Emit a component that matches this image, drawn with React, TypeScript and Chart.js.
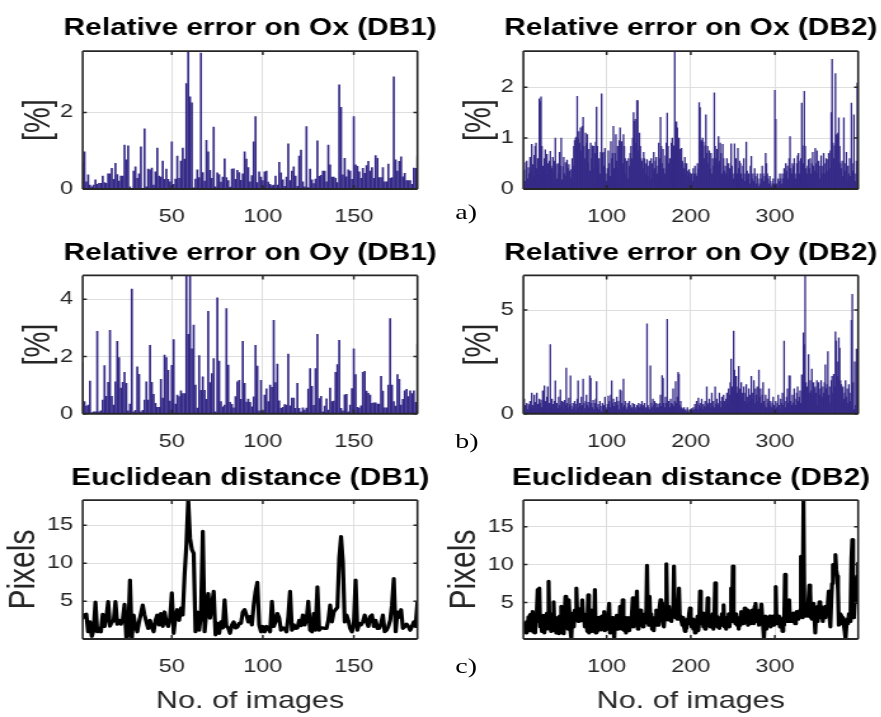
import React, { useEffect, useRef } from "react";
import { Chart, registerables } from "chart.js";

Chart.register(...registerables);

// ---------------- data ----------------
const oxDB1: number[] = [
  0.7, 0.97, 0.19, 0.37, 0.1, 0.06, 0.1, 0.24, 0.12, 0.15,
  0.15, 0.34, 0.17, 0.15, 0.4, 0.4, 0.54, 0.25, 0.67, 0.38,
  0.21, 0.34, 0.34, 1.15, 0.76, 1.13, 0.06, 0.02, 0.47, 0.58,
  0.28, 0.4, 1.1, 0.02, 1.57, 0.06, 0.52, 0.5, 0.55, 0.1,
  0.45, 1.07, 0.34, 0.31, 0.73, 0.25, 0.52, 0.25, 0.19, 1.23,
  0.12, 0.26, 0.86, 0.28, 0.73, 1.07, 0.78, 2.75, 3.6, 2.41,
  2.25, 0.03, 0.26, 0.5, 0.3, 3.55, 0.43, 0.21, 1.27, 0.97,
  0.49, 0.28, 1.62, 0.06, 0.42, 0.38, 0.18, 0.31, 0.79, 0.3,
  0.22, 0.05, 0.52, 0.53, 0.25, 0.49, 0.43, 0.23, 0.4, 0.97,
  0.78, 0.56, 0.19, 0.35, 1.23, 1.89, 0.17, 0.45, 0.31, 0.22,
  0.45, 0.47, 0.18, 0.12, 0.09, 0.1, 0.34, 0.1, 0.7, 0.42,
  0.24, 0.07, 0.31, 1.18, 0.22, 0.47, 0.58, 0.34, 0.07, 0.86,
  1.02, 0.19, 0.06, 1.63, 0.04, 0.52, 0.24, 0.14, 0.26, 1.26,
  0.33, 0.36, 0.47, 0.47, 0.19, 1.15, 0.63, 0.31, 0.31, 0.28,
  0.17, 2.72, 2.13, 0.37, 0.8, 0.32, 0.5, 0.47, 0.25, 1.89,
  0.63, 0.59, 0.45, 0.28, 0.54, 0.41, 0.61, 0.72, 0.47, 0.56,
  0.28, 0.87, 0.8, 0.3, 0.3, 0.56, 0.19, 0.19, 0.65, 0.28,
  0.3, 2.93, 0.76, 0.47, 0.72, 0.84, 0.32, 0.41, 0.22, 0.22,
  0.22, 0.12, 0.55, 0.54, 0.84,
];

const oyDB1: number[] = [
  1.79, 0.42, 0.27, 0.3, 1.14, 0.03, 0.07, 0.07, 2.88, 0.07,
  0.1, 0.48, 1.68, 0.61, 1.1, 2.91, 0.61, 0.3, 1.11, 2.53,
  1.96, 0.9, 1.1, 1.45, 1.06, 0.1, 0.34, 4.35, 0.07, 0.12,
  1.64, 1.38, 0.07, 0.12, 0.48, 1.11, 0.48, 2.39, 1.1, 0.68,
  0.36, 0.22, 0.22, 1.2, 0.55, 2.05, 1.96, 1.52, 0.44, 1.69,
  2.59, 0.34, 0.65, 0.6, 0.8, 0.7, 0.7, 4.8, 2.77, 4.8,
  2.27, 3.1, 1.0, 0.2, 2.03, 0.82, 1.29, 0.82, 0.5, 3.58,
  1.09, 1.4, 1.93, 0.07, 4.05, 1.84, 0.42, 0.24, 0.3, 3.67,
  1.7, 0.4, 0.33, 0.21, 0.6, 1.11, 1.17, 0.5, 2.53, 1.06,
  0.41, 0.51, 0.4, 0.24, 0.59, 2.39, 1.66, 0.1, 1.17, 0.07,
  0.65, 0.87, 0.42, 1.0, 0.92, 3.26, 1.09, 1.73, 0.45, 0.19,
  0.22, 0.32, 0.3, 2.08, 0.28, 0.55, 0.55, 0.19, 1.06, 0.19,
  0.07, 0.21, 0.13, 0.2, 0.86, 1.58, 0.96, 0.29, 1.58, 2.77,
  0.53, 0.61, 0.07, 0.27, 0.52, 0.13, 0.9, 0.42, 0.44, 1.45,
  1.72, 2.56, 0.19, 0.1, 0.66, 0.68, 0.07, 0.3, 0.88, 2.27,
  1.37, 0.22, 0.2, 0.28, 1.45, 1.48, 0.79, 0.71, 0.65, 0.36,
  0.38, 0.38, 0.34, 0.34, 1.31, 0.79, 0.21, 0.21, 1.0, 3.32,
  1.0, 0.42, 0.27, 1.37, 1.2, 0.3, 0.5, 0.8, 0.85, 0.6,
  0.8, 0.7, 0.8, 0.4, 2.42,
];

const euDB1: number[] = [
  2.8, 3.2, 3.3, 1.0, 2.3, 0.4, 1.2, 4.9, 1.0, 1.45,
  1.0, 3.3, 1.7, 2.85, 4.95, 1.75, 2.3, 2.4, 4.95, 2.0,
  2.5, 2.0, 2.6, 4.6, 0.1, 0.6, 7.8, 0.1, 3.2, 1.7,
  1.0, 2.3, 3.4, 4.5, 3.2, 2.3, 1.45, 2.5, 1.6, 1.0,
  2.5, 3.2, 1.9, 3.4, 1.7, 3.6, 2.2, 1.7, 2.8, 6.1,
  0.8, 3.0, 3.9, 2.5, 4.1, 3.2, 8.5, 12.4, 18.3, 13.3,
  11.8, 11.3, 1.0, 3.6, 1.2, 3.2, 14.2, 1.0, 3.6, 6.0,
  2.8, 4.5, 6.3, 0.6, 2.1, 0.8, 2.3, 1.5, 5.2, 1.7,
  1.5, 0.8, 1.9, 2.3, 1.5, 1.6, 2.1, 2.1, 3.6, 3.9,
  3.2, 2.3, 3.0, 1.9, 4.5, 6.3, 7.5, 1.9, 1.0, 1.7,
  1.0, 1.7, 1.45, 1.0, 5.0, 1.7, 2.3, 3.4, 2.8, 1.2,
  1.5, 1.45, 1.0, 3.0, 6.3, 1.2, 1.9, 1.45, 1.5, 2.5,
  1.8, 3.2, 1.9, 2.5, 5.0, 1.2, 1.0, 3.4, 1.2, 6.9,
  1.2, 1.5, 1.5, 1.45, 1.45, 2.5, 4.5, 2.3, 3.6, 3.9,
  4.2, 10.7, 13.5, 10.2, 2.3, 3.2, 2.5, 1.45, 1.0, 1.9,
  7.8, 1.2, 2.1, 1.9, 2.3, 3.2, 2.3, 1.7, 3.0, 3.2,
  1.7, 2.5, 1.45, 1.45, 2.1, 3.2, 1.0, 1.2, 1.7, 2.5,
  4.5, 8.0, 1.0, 3.6, 2.9, 3.9, 1.45, 1.7, 2.0, 1.7,
  1.2, 1.7, 2.3, 1.7, 4.9,
];

const oxDB2: number[] = [
  0.18, 0.37, 0.15, 0.52, 0.55, 0.2, 0.42, 0.3, 0.62, 0.35, 0.88, 0.48, 0.25, 0.66, 0.84, 0.9, 0.4, 0.6, 0.28, 1.77,
  1.72, 1.81, 0.84, 0.45, 0.37, 0.6, 0.77, 0.3, 0.68, 0.5, 0.28, 0.55, 0.74, 0.45, 0.4, 0.62, 0.3, 0.55, 1.0, 0.48,
  0.2, 0.5, 0.3, 0.72, 0.45, 1.0, 0.18, 0.44, 0.62, 0.3, 0.52, 0.25, 0.57, 0.4, 0.48, 0.35, 0.22, 0.38, 0.6, 0.45,
  0.84, 0.95, 1.0, 1.02, 1.82, 0.98, 1.13, 0.9, 1.2, 0.75, 1.23, 1.41, 0.84, 0.6, 1.1, 0.9, 1.07, 0.5, 0.78, 0.35,
  0.9, 0.6, 0.85, 0.4, 0.84, 0.7, 0.92, 1.61, 0.84, 0.5, 0.6, 0.3, 0.72, 1.87, 0.7, 0.72, 0.45, 0.8, 0.3, 0.15,
  0.4, 0.75, 0.5, 0.25, 0.93, 0.6, 0.7, 1.23, 0.4, 0.7, 1.07, 0.55, 0.84, 0.4, 0.95, 1.2, 0.9, 0.93, 0.5, 1.07,
  0.84, 0.6, 0.3, 0.55, 0.2, 0.6, 0.45, 0.7, 0.84, 0.6, 1.0, 1.5, 1.33, 1.37, 0.9, 1.74, 1.74, 0.75, 1.1, 0.84,
  0.6, 0.55, 0.4, 0.72, 0.6, 0.3, 0.5, 0.58, 0.25, 0.45, 0.55, 0.2, 0.6, 0.5, 0.35, 0.72, 0.4, 0.55, 0.62, 0.3,
  0.45, 0.9, 0.6, 1.41, 0.84, 0.5, 0.78, 0.4, 0.3, 0.65, 0.9, 1.49, 0.84, 0.5, 0.6, 0.3, 0.9, 1.0, 0.6, 0.85,
  2.71, 0.84, 1.32, 1.2, 0.95, 1.0, 0.78, 0.6, 0.8, 0.55, 0.5, 0.4, 0.62, 0.3, 0.5, 0.35, 0.25, 0.38, 0.32, 0.2,
  0.3, 0.15, 0.4, 0.3, 0.45, 0.3, 0.25, 0.5, 0.4, 1.7, 1.6, 0.93, 0.95, 1.0, 0.92, 0.6, 0.85, 1.46, 0.7, 0.84,
  0.5, 0.75, 0.4, 0.7, 0.3, 0.6, 0.45, 1.89, 0.84, 0.6, 0.78, 0.5, 1.03, 0.55, 0.9, 0.7, 0.3, 0.88, 0.6, 0.35,
  0.45, 0.3, 0.6, 0.2, 0.5, 0.4, 0.3, 0.89, 0.45, 0.3, 0.2, 0.89, 0.5, 0.6, 0.3, 0.8, 0.4, 0.55, 0.5, 0.3,
  0.2, 0.45, 0.6, 0.15, 0.3, 0.92, 0.35, 0.2, 0.3, 0.1, 0.45, 0.64, 0.2, 0.3, 0.15, 0.4, 0.25, 0.1, 0.3, 0.2,
  0.05, 0.1, 0.3, 0.2, 0.45, 0.3, 0.15, 0.25, 0.7, 0.5, 0.3, 0.2, 0.1, 0.25, 0.15, 0.05, 0.1, 0.2, 0.1, 1.94,
  1.37, 0.1, 0.05, 0.2, 0.15, 0.3, 0.2, 0.1, 0.3, 0.2, 0.4, 0.3, 0.5, 0.35, 0.45, 0.2, 0.6, 1.03, 0.4, 0.3,
  0.5, 0.45, 0.6, 0.3, 0.2, 0.5, 0.65, 0.7, 0.3, 0.55, 0.6, 1.69, 0.85, 0.5, 1.92, 0.84, 0.4, 0.3, 0.45, 0.58,
  0.4, 0.6, 0.3, 0.5, 0.72, 0.45, 0.35, 0.8, 0.5, 0.75, 0.3, 0.55, 0.2, 0.45, 0.65, 0.3, 0.45, 0.7, 0.3, 0.5,
  0.6, 0.35, 0.58, 0.7, 0.4, 0.75, 1.5, 2.55, 0.9, 0.6, 0.85, 2.27, 1.07, 1.05, 1.1, 1.4, 0.84, 0.5, 0.4, 0.55,
  0.25, 1.4, 0.5, 0.35, 0.72, 0.2, 0.45, 0.3, 0.6, 0.25, 1.69, 0.5, 0.35, 1.46, 0.3, 0.15, 0.55, 2.08, 1.69,
];

const oyDB2: number[] = [
  0.3, 0.7, 0.4, 0.35, 0.5, 0.2, 0.45, 0.38, 0.6, 0.25, 1.0, 0.4, 0.3, 0.9, 0.55, 0.2, 1.0, 0.45, 0.3, 0.7,
  0.5, 0.66, 0.3, 1.1, 0.4, 1.34, 0.6, 0.3, 0.8, 1.3, 0.4, 0.5, 3.33, 0.3, 0.7, 0.45, 0.2, 0.6, 1.58, 0.35,
  0.5, 0.25, 0.8, 0.4, 1.15, 0.3, 0.6, 0.55, 0.2, 0.65, 0.4, 2.2, 0.5, 0.3, 0.75, 0.45, 1.83, 0.35, 0.2, 0.5,
  0.3, 0.6, 0.15, 0.45, 0.7, 1.58, 0.3, 0.5, 0.35, 0.8, 0.4, 1.67, 0.5, 0.25, 0.6, 0.9, 0.4, 0.55, 0.3, 1.83,
  1.7, 0.5, 0.3, 0.65, 0.2, 0.5, 0.7, 1.55, 0.3, 0.45, 0.2, 0.6, 0.35, 0.1, 0.5, 0.25, 0.4, 0.8, 0.3, 0.2,
  0.45, 0.85, 0.6, 0.3, 0.9, 1.58, 0.5, 0.7, 0.35, 0.55, 0.3, 0.8, 0.4, 0.6, 0.2, 1.15, 1.1, 0.5, 0.3, 1.67,
  0.4, 0.6, 0.3, 0.2, 0.5, 0.35, 0.6, 0.4, 0.25, 0.3, 0.5, 0.2, 0.45, 0.3, 0.15, 0.4, 0.35, 0.5, 0.3, 0.45,
  0.35, 0.6, 0.3, 0.4, 0.5, 0.2, 0.3, 4.34, 0.4, 0.3, 0.2, 2.31, 0.5, 0.3, 0.7, 0.4, 0.6, 0.25, 0.5, 0.3,
  0.45, 0.3, 0.5, 0.9, 0.35, 1.84, 1.7, 0.5, 0.3, 0.8, 0.5, 4.55, 0.4, 0.6, 0.3, 0.7, 0.5, 0.45, 1.2, 0.35,
  0.6, 1.55, 0.5, 0.8, 1.99, 1.9, 0.4, 0.6, 0.3, 0.2, 0.25, 0.3, 0.15, 0.2, 0.1, 0.3, 0.15, 0.05, 0.2, 0.1,
  0.25, 0.15, 0.3, 0.2, 0.45, 0.3, 0.6, 0.2, 0.75, 0.4, 0.5, 0.3, 0.7, 0.2, 0.45, 0.35, 0.6, 0.3, 1.3, 0.5,
  0.4, 0.7, 0.3, 0.5, 1.0, 0.35, 0.6, 0.3, 1.3, 0.45, 0.7, 0.5, 0.4, 1.0, 0.6, 0.3, 0.8, 0.5, 0.9, 0.6,
  0.4, 0.7, 1.0, 0.5, 1.2, 0.9, 1.5, 2.64, 1.3, 1.1, 3.98, 2.1, 1.5, 1.8, 1.0, 1.3, 2.28, 1.2, 0.8, 1.5,
  1.0, 0.7, 1.3, 0.6, 1.0, 1.4, 0.8, 0.5, 1.2, 0.9, 0.6, 1.8, 1.0, 0.7, 1.6, 0.5, 1.2, 0.9, 1.3, 0.6,
  2.1, 0.8, 1.2, 0.5, 0.9, 1.5, 0.6, 0.4, 0.9, 0.3, 0.7, 0.5, 1.2, 0.4, 0.6, 0.3, 0.5, 0.8, 0.4, 0.2,
  0.6, 0.3, 0.5, 0.9, 0.4, 0.2, 0.7, 0.5, 1.0, 0.4, 3.5, 0.6, 0.3, 0.8, 1.2, 0.5, 1.83, 1.83, 0.6, 0.4,
  0.9, 0.5, 1.2, 0.7, 0.4, 1.0, 1.3, 0.6, 0.8, 1.1, 0.5, 1.88, 1.2, 3.9, 3.33, 6.67, 1.5, 1.3, 1.2, 2.85,
  1.0, 1.6, 1.1, 2.15, 0.9, 1.5, 1.2, 1.3, 1.0, 1.6, 0.4, 1.5, 0.9, 1.2, 1.6, 0.8, 1.3, 1.0, 1.5, 2.36,
  1.2, 1.4, 3.0, 0.9, 1.3, 0.5, 1.6, 1.8, 1.0, 1.9, 1.3, 3.95, 3.5, 2.5, 1.8, 3.66, 3.17, 1.6, 1.4, 1.2,
  1.3, 0.7, 1.0, 1.6, 0.8, 1.2, 0.5, 1.4, 1.0, 0.6, 4.5, 5.76, 1.5, 0.2, 2.5, 0.4, 3.12, 2.3, 3.58,
];

const euDB2: number[] = [
  2.2, 1.8, 2.3, 1.0, 2.5, 1.2, 3.1, 2.0, 3.4, 1.3, 3.2, 3.8, 1.1, 3.5, 1.0, 3.0, 4.0, 6.7, 2.5, 6.9,
  1.8, 3.0, 1.2, 2.5, 3.3, 1.0, 2.8, 1.5, 3.6, 2.2, 7.8, 1.5, 2.8, 1.2, 3.5, 2.0, 5.1, 1.3, 3.0, 1.0,
  2.5, 1.8, 0.9, 3.2, 2.0, 4.5, 1.0, 2.6, 0.9, 3.3, 5.8, 2.2, 4.0, 1.5, 5.35, 3.0, 1.2, 0.2, 2.8, 3.6,
  1.8, 4.0, 3.0, 6.9, 3.5, 2.5, 4.2, 3.0, 3.8, 2.6, 5.35, 3.2, 3.5, 1.8, 3.0, 2.4, 1.2, 6.0, 1.0, 3.5,
  2.0, 4.0, 1.2, 2.8, 1.5, 6.7, 1.0, 2.5, 1.2, 3.0, 1.8, 2.5, 1.4, 3.2, 1.5, 2.2, 3.8, 1.3, 2.8, 2.0,
  1.5, 3.6, 4.9, 1.0, 2.5, 1.2, 3.0, 1.8, 0.2, 2.5, 2.0, 3.3, 1.5, 3.0, 2.2, 4.5, 2.5, 1.5, 5.35, 2.0,
  1.3, 3.0, 1.0, 2.5, 1.6, 3.0, 1.3, 2.8, 1.8, 3.5, 5.6, 1.8, 3.0, 2.5, 4.0, 6.5, 1.5, 3.2, 2.8, 4.0,
  2.0, 3.5, 1.8, 3.0, 2.2, 3.5, 3.0, 9.9, 3.0, 2.0, 5.8, 2.6, 3.5, 1.5, 2.8, 1.3, 3.0, 2.0, 4.0, 2.5,
  3.0, 2.0, 4.5, 5.35, 3.3, 5.0, 2.5, 1.8, 3.2, 2.8, 10.1, 3.5, 2.7, 4.5, 3.0, 3.5, 2.5, 4.0, 3.2, 9.8,
  3.6, 3.0, 4.5, 2.8, 3.5, 6.9, 3.0, 3.2, 2.5, 2.0, 3.0, 1.8, 1.2, 2.5, 1.6, 2.8, 2.2, 3.5, 4.25, 2.5,
  1.8, 2.8, 1.5, 2.5, 1.0, 2.3, 1.8, 3.2, 1.3, 2.5, 6.5, 3.5, 2.2, 3.6, 1.8, 2.5, 1.5, 3.0, 2.2, 5.6,
  2.0, 3.0, 1.8, 2.8, 2.5, 3.5, 1.5, 2.8, 7.6, 2.0, 3.2, 1.8, 2.5, 1.6, 3.0, 2.2, 3.5, 2.0, 4.7, 1.8,
  2.5, 1.5, 3.0, 2.0, 3.5, 1.8, 3.0, 6.9, 2.5, 9.8, 3.5, 3.0, 2.2, 3.5, 2.0, 2.8, 1.5, 3.0, 2.0, 3.8,
  2.5, 3.5, 2.2, 4.25, 2.8, 3.6, 4.0, 2.0, 3.5, 2.2, 3.0, 2.5, 4.0, 3.0, 2.2, 4.5, 4.9, 3.0, 2.5, 3.5,
  2.0, 4.0, 3.2, 4.8, 3.0, 1.8, 0.2, 2.5, 3.2, 1.5, 3.0, 3.0, 2.2, 3.2, 1.8, 3.0, 2.6, 3.2, 2.0, 3.0,
  7.1, 2.2, 3.0, 2.5, 3.2, 1.8, 2.8, 2.5, 1.2, 3.0, 2.0, 8.7, 3.2, 4.0, 2.5, 3.0, 5.35, 2.5, 3.2, 3.0,
  2.5, 3.6, 3.0, 2.2, 3.2, 3.8, 2.8, 3.3, 3.0, 4.0, 11.1, 6.0, 3.0, 18.6, 4.0, 3.2, 3.5, 4.0, 3.2, 5.5,
  7.3, 6.5, 3.0, 2.8, 3.5, 4.9, 3.2, 1.0, 3.5, 2.5, 4.5, 3.6, 5.1, 3.0, 4.5, 3.8, 2.5, 4.0, 3.0, 4.5,
  3.5, 4.0, 5.0, 6.5, 3.0, 1.8, 5.0, 7.5, 10.0, 8.9, 9.5, 11.3, 9.3, 8.5, 6.7, 2.0, 3.5, 2.8, 3.3, 2.2,
  3.0, 2.0, 1.2, 0.2, 1.8, 2.8, 2.2, 3.5, 2.5, 4.0, 10.7, 13.3, 6.2, 3.0, 5.35, 8.2, 5.0, 8.5, 10.2,
];

const xTicksDB1 = [50, 100, 150];
const xTicksDB2 = [100, 200, 300];
const yTicksOxDB1 = [0, 2];
const yTicksOxDB2 = [0, 1, 2];
const yTicksOyDB1 = [0, 2, 4];
const yTicksOyDB2 = [0, 5];
const yTicksEu = [5, 10, 15];

const panelTitles = [
  "Relative error on Ox (DB1)",
  "Relative error on Ox (DB2)",
  "Relative error on Oy (DB1)",
  "Relative error on Oy (DB2)",
  "Euclidean distance (DB1)",
  "Euclidean distance (DB2)",
];
const rowLabels = ["a)", "b)", "c)"];
const yTitlePercent = "[%]";
const yTitlePixels = "Pixels";
const xTitleImages = "No. of images";

// ---------------- layout / style ----------------
const FONT = "'Liberation Sans', Arial, Helvetica, sans-serif";
const SERIF = "'Liberation Serif', 'Times New Roman', serif";
const STRETCH = 1.27;
const CANVAS_W = 394;
const PLOT_LEFT = 65.1;
const PLOT_RIGHT = 328.7;
const COL_X = [0, 346.5];
const ROWS = [
  { top: 0, height: 230, titleTop: 14.6, titleBottom: 8.3, xAxisH: 41 },
  { top: 230, height: 230, titleTop: 9.9, titleBottom: 7.3, xAxisH: 46.3 },
  { top: 460, height: 257, titleTop: 4.1, titleBottom: 7.8, xAxisH: 78 },
];
const BAR_COLOR = "#352A87";
const AXIS_COLOR = "#262626";
const GRID_COLOR = "#dedede";

type PanelSpec = {
  row: number;
  col: number;
  kind: "bar" | "line";
  title: string;
  values: number[];
  xTicks: number[];
  yTicks: number[];
  yMin: number;
  yMax: number;
  yTitle: string;
  xTitle?: string;
  barPct?: number;
  inflate?: number | string;
};

const panels: PanelSpec[] = [
  { row: 0, col: 0, kind: "bar", title: panelTitles[0], values: oxDB1, xTicks: xTicksDB1, yTicks: yTicksOxDB1, yMin: 0, yMax: 3.6, yTitle: yTitlePercent, barPct: 0.75, inflate: 0.3 },
  { row: 0, col: 1, kind: "bar", title: panelTitles[1], values: oxDB2, xTicks: xTicksDB2, yTicks: yTicksOxDB2, yMin: 0, yMax: 2.71, yTitle: yTitlePercent, barPct: 1, inflate: "auto" },
  { row: 1, col: 0, kind: "bar", title: panelTitles[2], values: oyDB1, xTicks: xTicksDB1, yTicks: yTicksOyDB1, yMin: 0, yMax: 4.83, yTitle: yTitlePercent, barPct: 0.75, inflate: 0.3 },
  { row: 1, col: 1, kind: "bar", title: panelTitles[3], values: oyDB2, xTicks: xTicksDB2, yTicks: yTicksOyDB2, yMin: 0, yMax: 6.67, yTitle: yTitlePercent, barPct: 1, inflate: "auto" },
  { row: 2, col: 0, kind: "line", title: panelTitles[4], values: euDB1, xTicks: xTicksDB1, yTicks: yTicksEu, yMin: 0.05, yMax: 18.3, yTitle: yTitlePixels, xTitle: xTitleImages },
  { row: 2, col: 1, kind: "line", title: panelTitles[5], values: euDB2, xTicks: xTicksDB2, yTicks: yTicksEu, yMin: 0.19, yMax: 18.5, yTitle: yTitlePixels, xTitle: xTitleImages },
];

// MATLAB-like box with inward tick marks on all four sides
const boxPlugin = {
  id: "matlabBox",
  afterDatasetsDraw(chart: any) {
    const { ctx, chartArea } = chart;
    const { left, right, top, bottom } = chartArea;
    const xs = chart.scales.x;
    const ys = chart.scales.y;
    ctx.save();
    ctx.strokeStyle = AXIS_COLOR;
    ctx.lineWidth = 1.5;
    ctx.beginPath();
    xs.ticks.forEach((t: any) => {
      const px = xs.getPixelForValue(t.value);
      ctx.moveTo(px, top);
      ctx.lineTo(px, top + 4);
      ctx.moveTo(px, bottom);
      ctx.lineTo(px, bottom - 4);
    });
    ys.ticks.forEach((t: any) => {
      const py = ys.getPixelForValue(t.value);
      ctx.moveTo(left, py);
      ctx.lineTo(left + 3.2, py);
      ctx.moveTo(right, py);
      ctx.lineTo(right - 3.2, py);
    });
    ctx.stroke();
    ctx.lineWidth = 1.9;
    ctx.beginPath();
    ctx.moveTo(left, top);
    ctx.lineTo(right, top);
    ctx.moveTo(left, bottom);
    ctx.lineTo(right, bottom);
    ctx.stroke();
    ctx.lineWidth = 1.6;
    ctx.beginPath();
    ctx.moveTo(left, top);
    ctx.lineTo(left, bottom);
    ctx.moveTo(right, top);
    ctx.lineTo(right, bottom);
    ctx.stroke();
    ctx.restore();
  },
};

function Panel({ spec }: { spec: PanelSpec }) {
  const ref = useRef<HTMLCanvasElement | null>(null);
  const row = ROWS[spec.row];

  useEffect(() => {
    if (!ref.current) return;
    const n = spec.values.length;
    const points = spec.values.map((v, i) => ({ x: i + 1, y: v }));
    const dataset: any =
      spec.kind === "bar"
        ? {
            data: points,
            backgroundColor: BAR_COLOR,
            borderWidth: 0,
            barPercentage: spec.barPct ?? 1,
            categoryPercentage: 1,
            inflateAmount: spec.inflate ?? "auto",
            clip: 0,
          }
        : {
            data: points,
            borderColor: "#000000",
            borderWidth: 3.2,
            pointRadius: 0,
            tension: 0,
            fill: false,
            borderJoinStyle: "round",
            borderCapStyle: "round",
            clip: 0,
          };
    const isPixels = spec.yTitle === yTitlePixels;

    const chart = new Chart(ref.current, {
      type: spec.kind,
      data: { datasets: [dataset] },
      options: {
        responsive: false,
        animation: false,
        devicePixelRatio: 1,
        events: [],
        layout: { padding: 0 },
        plugins: {
          legend: { display: false },
          tooltip: { enabled: false },
          title: {
            display: true,
            text: spec.title,
            color: "#000000",
            font: { family: FONT, size: 23.5, weight: "bold", lineHeight: 1.2 },
            padding: { top: row.titleTop, bottom: row.titleBottom },
          },
        },
        scales: {
          x: {
            type: "linear",
            min: 1,
            max: n,
            offset: false,
            grid: { color: GRID_COLOR, lineWidth: 1, drawTicks: false, offset: false },
            border: { display: false },
            ticks: {
              color: AXIS_COLOR,
              font: { family: FONT, size: 18.5 },
              padding: 17,
              autoSkip: false,
              maxRotation: 0,
              callback: (v: any) => String(v),
            },
            afterBuildTicks: (axis: any) => {
              axis.ticks = spec.xTicks.map((v) => ({ value: v }));
            },
            afterFit: (axis: any) => {
              axis.height = row.xAxisH;
            },
            title: spec.xTitle
              ? {
                  display: true,
                  text: spec.xTitle,
                  color: AXIS_COLOR,
                  font: { family: FONT, size: 24, lineHeight: 1.2 },
                  padding: { top: 0, bottom: 1.6 },
                }
              : { display: false },
          },
          y: {
            type: "linear",
            position: "left",
            min: spec.yMin,
            max: spec.yMax,
            grid: { color: GRID_COLOR, lineWidth: 1, drawTicks: false },
            border: { display: false },
            ticks: {
              color: AXIS_COLOR,
              font: { family: FONT, size: 18.5 },
              padding: 7.5,
              autoSkip: false,
              callback: (v: any) => String(v),
            },
            afterBuildTicks: (axis: any) => {
              axis.ticks = spec.yTicks.map((v) => ({ value: v }));
            },
            afterFit: (axis: any) => {
              axis.width = PLOT_LEFT;
            },
            title: {
              display: true,
              text: spec.yTitle,
              color: AXIS_COLOR,
              font: { family: FONT, size: isPixels ? 30 : 29, lineHeight: 1.2 },
              padding: { top: isPixels ? 0.5 : 13.5, bottom: 0 },
            },
          },
          // empty right-hand spacer so the title centres over the plot area
          yR: {
            type: "linear",
            position: "right",
            display: true,
            grid: { display: false },
            border: { display: false },
            ticks: { display: false },
            afterFit: (axis: any) => {
              axis.width = CANVAS_W - PLOT_RIGHT;
            },
          },
        },
      } as any,
      plugins: [boxPlugin],
    });
    return () => chart.destroy();
  }, [spec]);

  return (
    <canvas
      ref={ref}
      width={CANVAS_W}
      height={row.height}
      style={{ position: "absolute", left: COL_X[spec.col], top: row.top }}
    />
  );
}

const labelTops = [200.8, 430.1, 655.1];

export default function App() {
  return (
    <div
      style={{
        position: "absolute",
        left: 0,
        top: 0,
        width: 881 / STRETCH,
        height: 717,
        overflow: "hidden",
        background: "#ffffff",
        transform: `scaleX(${STRETCH})`,
        transformOrigin: "0 0",
      }}
    >
      {panels.map((p, i) => (
        <Panel key={i} spec={p} />
      ))}
      {rowLabels.map((t, i) => (
        <div
          key={t}
          style={{
            position: "absolute",
            left: 358.5,
            top: labelTops[i],
            fontFamily: SERIF,
            fontSize: 22,
            lineHeight: "22px",
            color: "#000000",
            whiteSpace: "nowrap",
          }}
        >
          {t}
        </div>
      ))}
    </div>
  );
}
